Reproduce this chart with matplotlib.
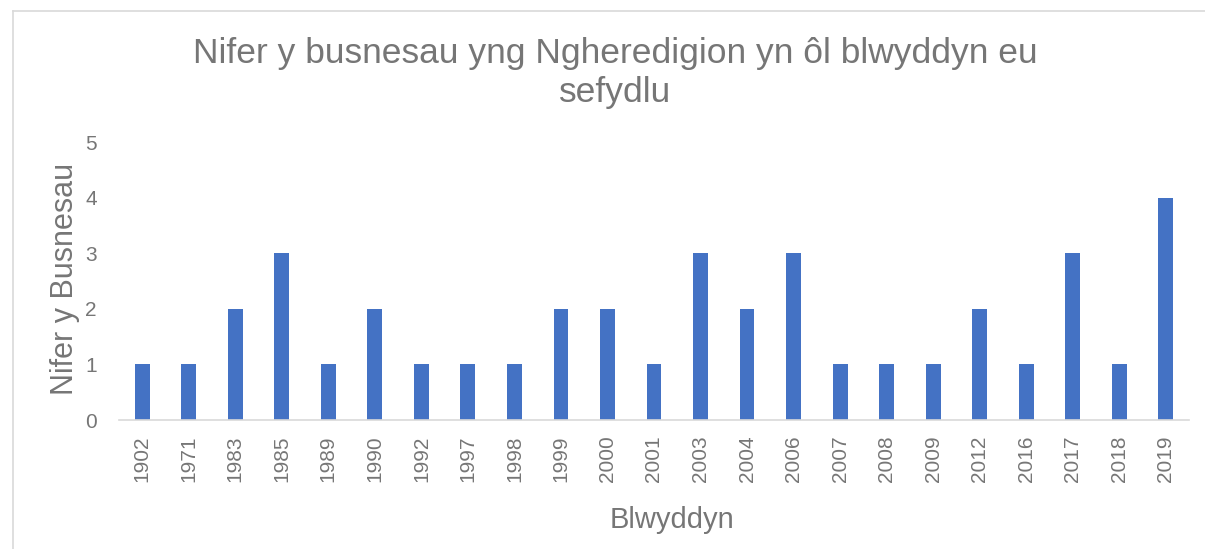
import matplotlib
matplotlib.use("Agg")
import matplotlib.pyplot as plt
from matplotlib.lines import Line2D

years = ["1902", "1971", "1983", "1985", "1989", "1990", "1992", "1997", "1998",
         "1999", "2000", "2001", "2003", "2004", "2006", "2007", "2008", "2009",
         "2012", "2016", "2017", "2018", "2019"]
counts = [1, 1, 2, 3, 1, 2, 1, 1, 1, 2, 2, 1, 3, 2, 3, 1, 1, 1, 2, 1, 3, 1, 4]
y_ticks = [0, 1, 2, 3, 4, 5]

title = "Nifer y busnesau yng Ngheredigion yn ôl blwyddyn eu\nsefydlu"
xlabel = "Blwyddyn"
ylabel = "Nifer y Busnesau"

plt.rcParams['font.family'] = ['Liberation Sans', 'DejaVu Sans']
text_col = "#767676"
bar_col = "#4472C4"

W, H = 1205, 549
fig = plt.figure(figsize=(W / 100, H / 100), dpi=100)
ax = fig.add_axes([119 / W, 1 - 420 / H, (1189 - 119) / W, (420 - 142) / H])

x = list(range(len(years)))
ax.bar(x, counts, width=0.32, color=bar_col, zorder=2)
ax.set_xlim(-0.5, len(years) - 0.5)
ax.set_ylim(0, 5)
ax.set_yticks(y_ticks)
ax.set_xticks(x)
ax.set_xticklabels(years, rotation=90)

for s in ["top", "right", "left"]:
    ax.spines[s].set_visible(False)
ax.spines["bottom"].set_color("#D9D9D9")
ax.spines["bottom"].set_linewidth(1.2)
ax.tick_params(axis="both", length=0, colors=text_col, labelsize=15)
ax.tick_params(axis="x", pad=11)
ax.tick_params(axis="y", pad=16)

fig.text(615 / W, 1 - 73 / H, title, ha="center", va="center",
         fontsize=25.5, color=text_col, linespacing=1.25)
fig.text(65 / W, 1 - 279 / H, ylabel, ha="center", va="center",
         rotation=90, fontsize=22, color=text_col)
fig.text(672 / W, 1 - 520 / H, xlabel, ha="center", va="center",
         fontsize=21, color=text_col)

# outer chart border (left and top visible in reference)
fig.add_artist(Line2D([12.5 / W, 12.5 / W], [0, 1 - 10.5 / H],
                      transform=fig.transFigure, color="#D9D9D9", lw=1.2))
fig.add_artist(Line2D([12.5 / W, 1], [1 - 10.5 / H, 1 - 10.5 / H],
                      transform=fig.transFigure, color="#D9D9D9", lw=1.2))

fig.savefig("out.png", dpi=100)
